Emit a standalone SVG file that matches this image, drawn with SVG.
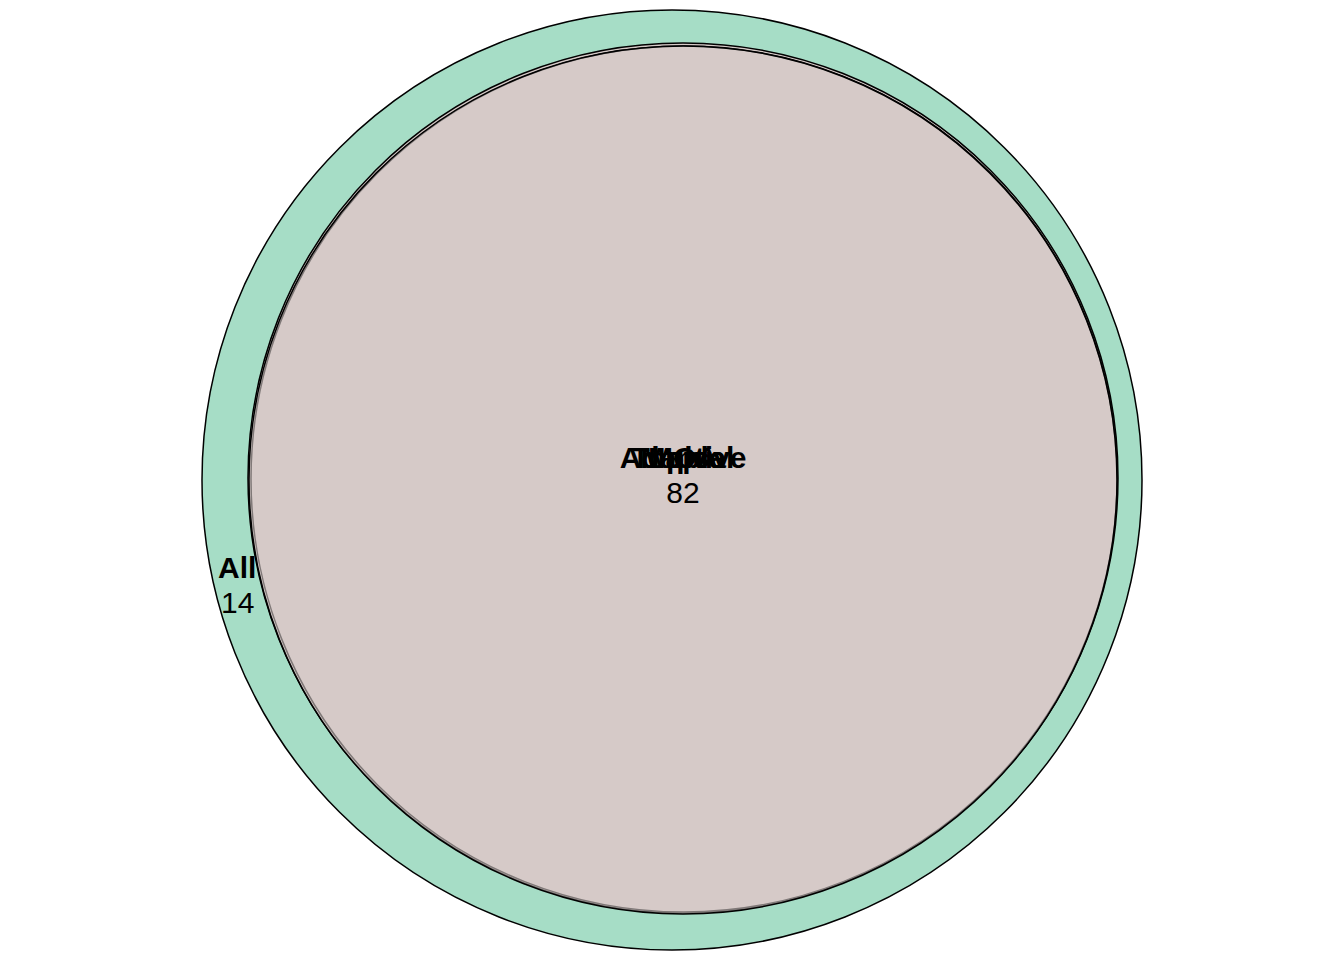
<svg xmlns="http://www.w3.org/2000/svg" width="1344" height="960" viewBox="0 0 1344 960">
<style>
.c{stroke:#000;stroke-width:1.5}
.b{font-family:"Liberation Sans",Arial,sans-serif;font-size:30px;font-weight:bold;fill:#000}
.n{font-family:"Liberation Sans",Arial,sans-serif;font-size:30px;fill:#000}
</style>
<rect width="1344" height="960" fill="#fff"/>
<g id="set-all">
<circle class="c" cx="672" cy="480" r="470" fill="#A6DDC6"/>
<text class="b" x="218" y="578">All</text>
<text class="n" x="221" y="613">14</text>
</g>
<g id="set-inner">
<circle class="c" cx="683" cy="478" r="435" fill="#D6CAC8"/>
<circle class="c" cx="684" cy="479" r="433" fill="#D6CAC8"/>
<circle class="c" cx="683" cy="480" r="434" fill="#D6CAC8" fill-opacity="0.6"/>
<text class="b" x="683" y="468" text-anchor="middle">Adaptive</text>
<text class="b" x="683" y="468" text-anchor="middle">MOA</text>
<text class="b" x="683" y="468" text-anchor="middle">Maple</text>
<text class="b" x="683" y="468" text-anchor="middle">Topical</text>
<text class="n" x="683" y="503" text-anchor="middle">82</text>
</g>
<g id="connectors"/>
</svg>
